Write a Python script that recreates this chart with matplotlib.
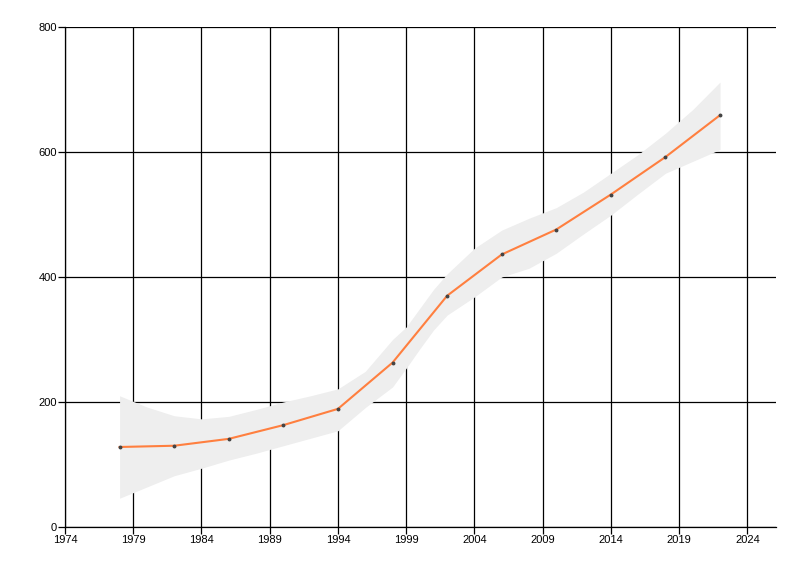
import matplotlib
matplotlib.use("Agg")
import matplotlib.pyplot as plt

years = [1978, 1982, 1986, 1990, 1994, 1998, 2002, 2006, 2010, 2014, 2018, 2022]
values = [128, 130, 141, 163, 189, 263, 370, 436, 476, 532, 592, 659]

band_years = [1978, 1980, 1982, 1984, 1986, 1988, 1990, 1992, 1994, 1996, 1998,
              1999, 2000, 2001, 2002, 2004, 2006, 2008, 2010, 2012, 2014, 2016,
              2018, 2020, 2022]
upper = [210, 192, 178, 173, 177, 188, 200, 210, 221, 249, 300,
         320, 350, 380, 405, 446, 475, 494, 511, 536, 566, 596,
         630, 668, 712]
lower = [46, 64, 82, 94, 107, 118, 130, 142, 154, 191, 224,
         254, 285, 315, 339, 368, 400, 414, 438, 469, 499, 533,
         566, 585, 604]

x_ticks = [1974, 1979, 1984, 1989, 1994, 1999, 2004, 2009, 2014, 2019, 2024]
y_ticks = [0, 200, 400, 600, 800]

plt.rcParams['font.family'] = ['Liberation Sans', 'DejaVu Sans']

fig = plt.figure(figsize=(8, 5.76), dpi=100)
ax = fig.add_axes([0.08125, 0.0851, 0.88875, 0.8680])

ax.fill_between(band_years, lower, upper, color='#eeeeee', linewidth=0, zorder=1)
ax.plot(years, values, color='#ff7f3f', linewidth=1.5, zorder=2)
ax.plot(years, values, linestyle='none', marker='o', markersize=1.8,
        color='#444444', zorder=3)

ax.set_xlim(1974, 2026.1)
ax.set_ylim(0, 800)
ax.set_xticks(x_ticks)
ax.set_yticks(y_ticks)
ax.set_axisbelow(True)
ax.grid(True, color='black', linewidth=0.9)

for side in ['top', 'right']:
    ax.spines[side].set_visible(False)
for side in ['left', 'bottom']:
    ax.spines[side].set_linewidth(0.9)

ax.tick_params(axis='both', labelsize=8, colors='black', width=0.9, length=5, pad=1)

plt.savefig("out.png", dpi=100)
plt.close()
